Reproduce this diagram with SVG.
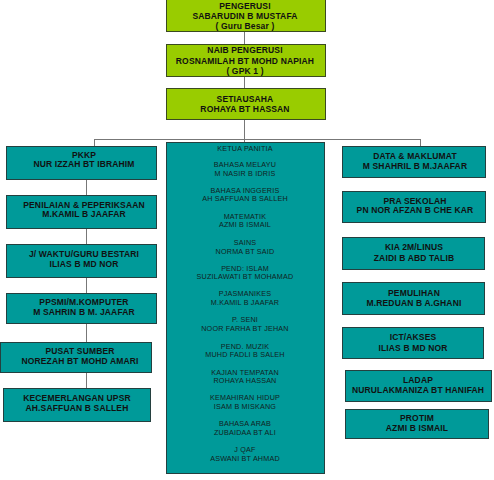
<svg xmlns="http://www.w3.org/2000/svg" width="494" height="480" viewBox="0 0 494 480">
<style>
.g{fill:#99cc00;stroke:#3a4a20;stroke-width:1}
.t{fill:#009a99;stroke:#24403f;stroke-width:1}
.b{font-family:"Liberation Sans",Arial,sans-serif;font-weight:bold;font-size:8.5px;letter-spacing:0.15px;fill:#111;text-anchor:middle}
.m{font-family:"Liberation Sans",Arial,sans-serif;font-size:7.2px;letter-spacing:0.2px;fill:#112222;text-anchor:middle}
.c{stroke:#777;stroke-width:1;fill:none}
</style>
<rect width="494" height="480" fill="#fff"/>
<g id="connectors">
<path class="c" d="M244.5 32V44M244.5 76V88M244.5 119V142M94.5 139.5H420.5M94.5 139V146M420.5 139V146M86.5 179V195M86.5 228V244M86.5 277V293M86.5 323V342M86.5 372V388"/>
</g>
<g id="pengerusi"><rect class="g" x="166.5" y="-0.5" width="159" height="32"/>
<text class="b" x="245" y="9">PENGERUSI</text><text class="b" x="245" y="19">SABARUDIN B MUSTAFA</text><text class="b" x="245" y="29">( Guru Besar )</text></g>
<g id="naib"><rect class="g" x="166.5" y="44.5" width="159" height="32"/>
<text class="b" x="245" y="53">NAIB PENGERUSI</text><text class="b" x="245" y="64">ROSNAMILAH BT MOHD NAPIAH</text><text class="b" x="245" y="74">( GPK 1 )</text></g>
<g id="setiausaha"><rect class="g" x="166.5" y="88.5" width="159" height="31"/>
<text class="b" x="245" y="102">SETIAUSAHA</text><text class="b" x="245" y="112">ROHAYA BT HASSAN</text></g>
<g id="pkkp"><rect class="t" x="6.5" y="146.5" width="150" height="33"/>
<text class="b" x="84" y="158">PKKP</text><text class="b" x="84" y="167">NUR IZZAH BT IBRAHIM</text></g>
<g id="penilaian"><rect class="t" x="6.5" y="195.5" width="150" height="33"/>
<text class="b" x="84" y="208">PENILAIAN &amp; PEPERIKSAAN</text><text class="b" x="84" y="217">M.KAMIL B JAAFAR</text></g>
<g id="jwaktu"><rect class="t" x="6.5" y="244.5" width="150" height="33"/>
<text class="b" x="84" y="257">J/ WAKTU/GURU BESTARI</text><text class="b" x="84" y="267">ILIAS B MD NOR</text></g>
<g id="ppsmi"><rect class="t" x="6.5" y="293.5" width="150" height="30"/>
<text class="b" x="84" y="305">PPSMI/M.KOMPUTER</text><text class="b" x="84" y="315">M SAHRIN B M. JAAFAR</text></g>
<g id="pusat"><rect class="t" x="0.5" y="342.5" width="151" height="30"/>
<text class="b" x="80" y="354">PUSAT SUMBER</text><text class="b" x="80" y="364">NOREZAH BT MOHD AMARI</text></g>
<g id="kecemerlangan"><rect class="t" x="3.5" y="388.5" width="147" height="33"/>
<text class="b" x="77" y="401">KECEMERLANGAN UPSR</text><text class="b" x="77" y="411">AH.SAFFUAN B SALLEH</text></g>
<g id="panitia"><rect class="t" x="166.5" y="142.5" width="158" height="331"/>
<text class="m" x="245" y="151">KETUA PANITIA</text>
<text class="m" x="245" y="167">BAHASA MELAYU</text><text class="m" x="245" y="176">M NASIR B IDRIS</text>
<text class="m" x="245" y="193">BAHASA INGGERIS</text><text class="m" x="245" y="201">AH SAFFUAN B SALLEH</text>
<text class="m" x="245" y="219">MATEMATIK</text><text class="m" x="245" y="227">AZMI B ISMAIL</text>
<text class="m" x="245" y="245">SAINS</text><text class="m" x="245" y="254">NORMA BT SAID</text>
<text class="m" x="245" y="271">PEND: ISLAM</text><text class="m" x="245" y="279">SUZILAWATI BT MOHAMAD</text>
<text class="m" x="245" y="296">PJASMANIKES</text><text class="m" x="245" y="305">M.KAMIL B JAAFAR</text>
<text class="m" x="245" y="322">P. SENI</text><text class="m" x="245" y="331">NOOR FARHA BT JEHAN</text>
<text class="m" x="245" y="349">PEND. MUZIK</text><text class="m" x="245" y="357">MUHD FADLI B SALEH</text>
<text class="m" x="245" y="375">KAJIAN TEMPATAN</text><text class="m" x="245" y="383">ROHAYA HASSAN</text>
<text class="m" x="245" y="400">KEMAHIRAN HIDUP</text><text class="m" x="245" y="409">ISAM B MISKANG</text>
<text class="m" x="245" y="426">BAHASA ARAB</text><text class="m" x="245" y="435">ZUBAIDAA BT ALI</text>
<text class="m" x="245" y="452">J QAF</text><text class="m" x="245" y="461">ASWANI BT AHMAD</text></g>
<g id="data"><rect class="t" x="342.5" y="146.5" width="143" height="31"/>
<text class="b" x="415" y="159">DATA &amp; MAKLUMAT</text><text class="b" x="415" y="169">M SHAHRIL B M.JAAFAR</text></g>
<g id="pra"><rect class="t" x="342.5" y="191.5" width="143" height="31"/>
<text class="b" x="415" y="204">PRA SEKOLAH</text><text class="b" x="415" y="213">PN NOR AFZAN B CHE KAR</text></g>
<g id="kia"><rect class="t" x="342.5" y="237.5" width="142" height="32"/>
<text class="b" x="414" y="250">KIA 2M/LINUS</text><text class="b" x="414" y="261">ZAIDI  B ABD TALIB</text></g>
<g id="pemulihan"><rect class="t" x="342.5" y="282.5" width="142" height="32"/>
<text class="b" x="414" y="296">PEMULIHAN</text><text class="b" x="414" y="306">M.REDUAN B A.GHANI</text></g>
<g id="ict"><rect class="t" x="342.5" y="327.5" width="141" height="31"/>
<text class="b" x="413" y="340">ICT/AKSES</text><text class="b" x="413" y="351">ILIAS B MD NOR</text></g>
<g id="ladap"><rect class="t" x="345.5" y="370.5" width="146" height="31"/>
<text class="b" x="418" y="383">LADAP</text><text class="b" x="418" y="393">NURULAKMANIZA BT HANIFAH</text></g>
<g id="protim"><rect class="t" x="345.5" y="409.5" width="143" height="29"/>
<text class="b" x="417" y="421">PROTIM</text><text class="b" x="417" y="431">AZMI B ISMAIL</text></g>
</svg>
